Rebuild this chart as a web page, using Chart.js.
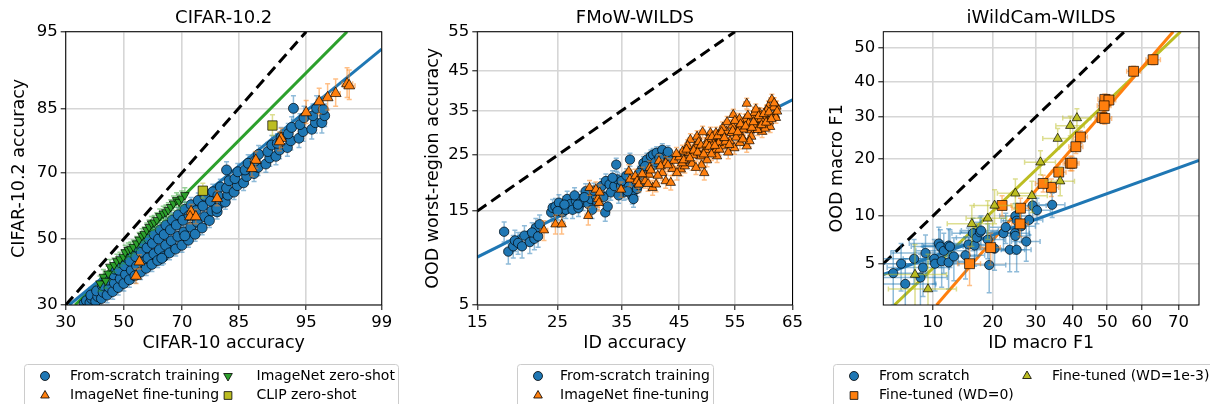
<!DOCTYPE html>
<html>
<head>
<meta charset="utf-8">
<script src="https://cdn.jsdelivr.net/npm/chart.js@4.4.0/dist/chart.umd.min.js"></script>
<style>
body { margin: 0; background: #fff; }
#wrap { position: relative; width: 1210px; height: 404px; overflow: hidden; }
canvas { position: absolute; top: 0; }
</style>
</head>
<body>
<div id="wrap">
<canvas id="cifar" width="403" height="404" style="left:0px"></canvas>
<canvas id="fmow" width="403" height="404" style="left:403px"></canvas>
<canvas id="wild" width="404" height="404" style="left:806px"></canvas>
</div>
<script>
// ---- CIFAR-10.2 (x: CIFAR-10 acc, y: CIFAR-10.2 acc) ----
var cifarXTicks = [30, 50, 70, 85, 95, 99];
var cifarYTicks = [30, 50, 70, 85, 95];
var cifarScratch = [
	[36.0,30.4],[36.8,31.2],[38.0,30.6],[38.6,31.8],[38.3,32.8],[40.0,31.0],[40.7,32.4],[40.3,34.0],[42.0,31.8],[42.6,33.6],
	[42.3,35.6],[44.0,32.8],[44.7,35.0],[44.2,37.2],[46.0,33.8],[46.6,36.3],[46.3,38.8],[46.9,40.5],[48.0,35.0],[48.7,37.6],
	[48.2,40.2],[48.8,42.5],[50.0,36.2],[50.6,38.9],[50.3,41.6],[50.9,44.2],[52.0,37.3],[52.7,40.2],[52.2,43.0],[52.8,45.8],
	[54.0,38.5],[54.6,41.5],[54.3,44.4],[54.9,47.3],[56.0,39.6],[56.7,42.8],[56.2,45.8],[56.8,48.7],[58.0,40.8],[58.6,44.0],
	[58.3,47.2],[58.9,50.0],[60.0,42.0],[60.7,45.3],[60.2,48.6],[60.8,51.4],[62.0,43.2],[62.6,46.6],[62.3,50.0],[62.9,52.9],
	[64.0,44.4],[64.7,48.0],[64.2,51.4],[64.8,54.4],[66.0,45.6],[66.6,49.4],[66.3,52.9],[66.9,56.0],[68.0,46.8],[68.7,50.8],
	[68.2,54.4],[68.8,57.6],[70.0,48.0],[70.6,52.2],[70.3,55.9],[70.9,59.3],[72.0,49.6],[72.7,53.7],[72.2,57.4],[72.8,60.7],
	[74.0,51.5],[74.6,55.3],[74.3,58.9],[74.9,62.0],[76.0,53.5],[76.7,57.0],[76.2,60.3],[76.8,63.3],[78.0,55.8],[78.6,58.8],
	[78.3,61.8],[78.9,64.6],[80.0,58.5],[80.7,61.0],[80.2,63.5],[80.8,66.0],[82.0,61.5],[82.6,63.6],[82.3,65.7],[82.9,67.8],
	[84.0,64.5],[84.7,66.4],[84.2,68.4],[84.8,70.3],[86.0,67.2],[86.6,69.0],[86.3,70.8],[86.9,72.6],[88.0,69.8],[88.7,71.5],
	[88.2,73.2],[88.8,74.9],[90.0,72.4],[90.6,74.0],[90.3,75.6],[90.9,77.2],[91.5,74.4],[92.0,76.0],[91.7,77.6],[92.2,79.0],
	[93.0,76.6],[93.4,78.2],[93.1,79.8],[93.5,81.2],[94.3,78.8],[94.7,80.3],[94.4,81.8],[94.8,83.2],[95.5,80.8],[95.8,82.2],
	[95.6,83.6],[95.9,85.0],[96.3,82.2],[96.5,83.6],[96.4,84.8],[93.7,85.0],[82.3,70.8],[63.4,43.9],[79.9,59.6],[70.9,51.0]
];
var cifarFinetune = [
	[97.8,89.1],[97.9,88.8],[97.2,87.6],[96.7,86.9],[96.1,86.2],[95.0,84.2],[92.2,78.8],[92.0,78.0],[88.3,73.4],[87.6,71.2],
	[80.0,62.6],[72.8,58.6],[72.5,57.0],[74.2,57.0],[55.6,42.8],[54.4,38.4]
];
var cifarZeroShot = [
	[41.5,36.2],[42.7,38.2],[43.5,37.0],[44.4,39.2],[45.0,41.3],[46.5,41.8],[47.5,43.0],[48.6,43.6],[49.8,44.4],[50.5,45.8],
	[51.6,46.5],[52.5,46.8],[53.4,47.5],[54.6,48.6],[55.5,49.8],[56.5,51.0],[57.3,51.6],[58.2,52.8],[59.0,53.8],[59.9,54.9],
	[60.8,55.2],[61.7,56.0],[62.7,57.2],[63.9,58.0],[64.8,58.4],[65.6,59.1],[66.4,60.0],[67.3,61.1],[68.3,62.1],[69.1,61.6],
	[69.9,62.6],[70.9,63.6]
];
var cifarClip = [[76.2,64.9],[91.0,81.6]];
var cifarFitScratch = [[31.1,30],[99,93.4]];
var cifarFitZeroShot = [[33.0,30],[97.8,95]];
var cifarDiag = [[30,30],[95,95]];
var cifarLabels = ['From-scratch training', 'ImageNet fine-tuning', 'ImageNet zero-shot', 'CLIP zero-shot'];

// ---- FMoW-WILDS (x: ID acc, y: OOD worst-region acc) ----
var fmowXTicks = [15, 25, 35, 45, 55, 65];
var fmowYTicks = [5, 15, 25, 35, 45, 55];
var fmowScratch = [
	[18.0,12.1],[18.5,9.7],[19.1,10.3],[19.3,11.0],[19.7,10.7],[20.2,10.3],[20.5,11.6],[21.2,10.8],[21.8,11.2],[22.0,12.6],
	[22.5,13.1],[21.5,12.0],[22.3,11.5],[24.1,14.8],[24.3,15.5],[24.7,15.7],[25.2,16.3],[25.7,14.8],[26.2,15.2],[26.4,16.9],
	[26.9,16.1],[27.2,15.2],[27.7,16.6],[28.1,15.5],[28.5,16.9],[28.8,16.4],[29.2,18.2],[29.6,16.1],[30.0,16.9],[30.2,15.2],
	[30.8,17.4],[31.4,18.0],[31.7,19.1],[32.3,14.8],[32.4,20.0],[32.7,15.7],[33.0,19.4],[33.2,18.0],[33.8,19.1],[34.1,23.1],
	[34.3,20.3],[34.9,19.1],[35.4,18.0],[36.2,19.1],[36.4,24.1],[36.8,17.4],[37.0,16.9],[37.6,18.6],[37.9,20.9],[37.9,19.3],
	[38.4,22.1],[38.7,23.4],[39.3,24.1],[40.0,24.8],[40.4,25.1],[41.0,25.5],[42.0,26.1],[42.6,24.8],[43.2,24.1],[25.0,15.0],
	[26.0,16.0],[27.5,17.5],[28.0,16.0],[29.0,17.2],[30.5,18.3],[31.0,16.5],[32.0,17.2],[33.5,20.6],[34.5,17.5],[35.0,20.0],
	[35.8,21.0],[36.0,18.2],[38.0,21.5],[39.0,22.8],[40.8,23.6],[41.5,24.5],[43.0,25.7]
];
var fmowFinetune = [
	[23.1,12.3],[24.7,13.1],[25.6,13.1],[29.6,14.3],[29.8,18.8],[30.8,18.5],[31.1,16.9],[31.4,18.0],[31.3,16.3],[34.9,18.5],
	[36.2,21.8],[36.4,20.3],[37.3,20.9],[37.6,20.0],[37.9,19.4],[39.0,20.0],[39.7,21.2],[39.8,22.5],[40.3,18.8],[40.9,19.4],
	[41.4,23.8],[42.0,21.5],[42.6,20.0],[43.5,19.7],[44.1,23.9],[42.6,23.4],[41.7,22.8],[45.3,22.2],[46.1,23.9],[47.3,23.3],
	[47.0,28.3],[47.9,26.9],[48.8,24.8],[49.5,21.5],[49.7,26.1],[50.6,29.8],[51.2,27.6],[51.8,24.8],[52.4,28.6],[53.0,26.9],
	[53.5,30.1],[54.1,28.0],[54.7,34.0],[54.9,26.5],[55.6,31.2],[56.2,29.0],[56.8,32.8],[57.1,36.7],[57.1,26.9],[57.7,30.4],
	[58.2,33.6],[58.8,31.6],[59.4,34.4],[59.8,30.1],[60.3,33.2],[60.9,36.0],[61.2,31.2],[61.5,37.7],[62.0,34.0],[62.3,36.0],
	[60.3,30.8],[46.7,25.5],[48.2,29.0],[50.0,24.0],[51.5,26.1],[54.4,29.8],[55.9,27.6],[57.9,29.0],[59.1,32.8],[52.1,27.6],
	[45.6,25.8],[45.0,24.6],[46.5,27.0],[47.5,25.0],[48.5,27.8],[49.0,23.0],[50.2,28.4],[50.8,25.2],[51.6,29.8],[52.2,26.2],
	[52.8,31.0],[53.3,27.9],[53.8,25.6],[54.5,31.5],[55.2,28.8],[55.8,33.0],[56.5,30.6],[57.4,32.0],[57.6,28.0],[58.5,34.5],
	[59.0,30.5],[59.6,33.0],[60.6,35.0],[61.0,32.5],[61.8,35.8],[62.2,33.3],[49.2,30.0],[48.0,22.5],[46.0,22.8],[44.5,25.3],
	[45.5,23.4],[43.8,22.3],
	[45.8,24.0],[46.3,26.2],[46.9,24.4],[47.6,26.0],[48.3,25.6],[48.9,27.1],[49.4,25.2],[49.9,27.3],[50.4,26.8],[50.9,28.9],
	[51.4,27.0],[51.9,29.1],[52.6,30.0],[53.1,28.7],[53.6,32.3],[54.0,27.2],[54.6,30.3],[55.0,32.6],[55.5,30.0],[56.0,31.8],
	[56.4,28.4],[56.9,31.3],[57.3,33.8],[58.0,31.0],[58.3,32.3],[58.7,35.3],[59.2,33.7],[59.7,31.6],[60.1,34.2],[60.5,32.2],
	[61.0,34.6],[61.4,33.0],[61.9,36.8],[62.4,34.8],[44.6,21.5],[43.0,23.0],[41.2,21.0],[40.0,22.0],[38.5,21.3],[39.5,19.5]
];
var fmowFit = [[15,9.1],[65,37.6]];
var fmowDiag = [[15,15],[55,55]];
var fmowLabels = ['From-scratch training', 'ImageNet fine-tuning'];

// ---- iWildCam-WILDS (x: ID macro F1, y: OOD macro F1) ----
var wildXTicks = [10, 20, 30, 40, 50, 60, 70];
var wildYTicks = [5, 10, 20, 30, 40, 50];
var wildScratch = [
	[5.8,4.3],[6.5,5.0],[6.9,3.6],[7.8,5.4],[8.5,4.0],[8.8,4.7],[9.1,5.9],[10.2,5.4],[10.3,5.0],[10.8,6.8],
	[11.0,6.5],[11.2,5.2],[11.5,6.1],[12.2,6.6],[12.4,6.5],[12.2,5.1],[13.0,5.6],[14.9,5.7],[15.4,6.7],[16.2,7.9],
	[16.5,6.6],[16.9,7.4],[17.5,8.0],[17.7,8.2],[19.3,4.9],[19.0,7.2],[20.4,6.3],[22.3,7.9],[22.8,8.6],[23.7,6.2],
	[24.9,7.9],[25.0,7.6],[25.3,6.2],[26.4,8.7],[28.3,9.5],[27.6,7.0],[29.2,11.5],[30.3,10.8],[34.3,11.6],[25.0,10.0],
	[25.3,9.4]
];
var wildWd0 = [
	[63.2,46.5],[57.7,43.0],[49.3,34.8],[50.5,34.6],[49.1,33.0],[48.5,29.8],[49.3,29.6],[42.2,24.9],[40.9,22.6],[39.3,19.0],
	[39.8,19.0],[36.1,17.2],[34.1,14.4],[31.9,15.1],[26.2,11.1],[22.0,11.5],[26.1,9.0],[19.6,6.4],[15.6,5.0]
];
var wildWd1e3 = [
	[41.2,29.7],[39.3,27.7],[35.8,24.5],[31.2,19.2],[36.5,15.5],[29.0,13.0],[25.0,13.4],[20.4,11.5],[19.0,9.7],[16.0,9.0],
	[7.9,4.2],[9.4,3.3]
];
var wildFitScratch = [[5,4.2],[75,19.6]];
var wildFitWd0 = [[10.5,2.5],[68.6,55]];
var wildFitWd1e3 = [[5.9,2.5],[70.5,55]];
var wildDiag = [[5,5],[55,55]];
var wildLabels = ['From scratch', 'Fine-tuned (WD=0)', 'Fine-tuned (WD=1e-3)'];

var BLUE = '#1f77b4', ORANGE = '#ff7f0e', GREEN = '#2ca02c', OLIVE = '#bcbd22';

// inverse normal CDF (Acklam)
function probit(p) {
	p = Math.min(Math.max(p, 1e-6), 1 - 1e-6);
	var a = [-39.69683028665376, 220.9460984245205, -275.9285104469687, 138.3577518672690, -30.66479806614716, 2.506628277459239];
	var b = [-54.47609879822406, 161.5858368580409, -155.6989798598866, 66.80131188771972, -13.28068155288572];
	var c = [-0.007784894002430293, -0.3223964580411365, -2.400758277161838, -2.549732539343734, 4.374664141464968, 2.938163982698783];
	var d = [0.007784695709041462, 0.3224671290700398, 2.445134137142996, 3.754408661907416];
	var q, r;
	if (p < 0.02425) {
		q = Math.sqrt(-2 * Math.log(p));
		return (((((c[0]*q+c[1])*q+c[2])*q+c[3])*q+c[4])*q+c[5]) / ((((d[0]*q+d[1])*q+d[2])*q+d[3])*q+1);
	}
	if (p > 1 - 0.02425) {
		q = Math.sqrt(-2 * Math.log(1 - p));
		return -(((((c[0]*q+c[1])*q+c[2])*q+c[3])*q+c[4])*q+c[5]) / ((((d[0]*q+d[1])*q+d[2])*q+d[3])*q+1);
	}
	q = p - 0.5; r = q * q;
	return (((((a[0]*r+a[1])*r+a[2])*r+a[3])*r+a[4])*r+a[5])*q / (((((b[0]*r+b[1])*r+b[2])*r+b[3])*r+b[4])*r+1);
}

function normCdf(z) {
	var t = 1 / (1 + 0.2316419 * Math.abs(z));
	var y = 0.3989423 * Math.exp(-z * z / 2) * t * (0.3193815 + t * (-0.3565638 + t * (1.781478 + t * (-1.821256 + t * 1.330274))));
	return z > 0 ? 1 - y : y;
}

// percentages on a probit axis
class ProbitScale extends Chart.Scale {
	determineDataLimits() {
		this.min = this.options.min;
		this.max = this.options.max;
	}
	buildTicks() {
		return [];
	}
	configure() {
		super.configure();
		this._pStart = probit(this.min / 100);
		this._pRange = probit(this.max / 100) - this._pStart;
	}
	getPixelForValue(value) {
		return this.getPixelForDecimal((probit(value / 100) - this._pStart) / this._pRange);
	}
	getValueForPixel(pixel) {
		return 100 * normCdf(this._pStart + this.getDecimalForPixel(pixel) * this._pRange);
	}
	getLabelForValue(value) {
		return value.toFixed(1);
	}
}
ProbitScale.id = 'probit';
ProbitScale.defaults = {};
Chart.register(ProbitScale);

Chart.defaults.font.family = '"DejaVu Sans", sans-serif';
Chart.defaults.color = '#000';

function fade(hex, a) {
	var n = parseInt(hex.slice(1), 16);
	return 'rgba(' + (n >> 16) + ',' + ((n >> 8) & 255) + ',' + (n & 255) + ',' + a + ')';
}

function points(data, color, style, radius, err, order, rotation) {
	return {
		data: data,
		backgroundColor: color,
		borderColor: 'rgba(0,0,0,0.85)',
		borderWidth: 0.8,
		pointStyle: style,
		pointRadius: radius,
		pointRotation: rotation || 0,
		err: err,
		errColor: fade(color, 0.5),
		clip: 0,
		order: order
	};
}

function fitLine(data, color, dash) {
	return {
		data: data,
		showLine: true,
		borderColor: color,
		borderWidth: 3,
		borderDash: dash || [],
		pointRadius: 0,
		clip: 0,
		order: 10
	};
}

// vertical (and horizontal) error bars with caps, under each point set
var errorBars = {
	id: 'errorBars',
	beforeDatasetDraw: function (chart, args) {
		var ds = chart.data.datasets[args.index];
		if (!ds.err) return;
		var xs = chart.scales.x, ys = chart.scales.y, ctx = chart.ctx, a = chart.chartArea;
		var cap = 2.5;
		ctx.save();
		ctx.beginPath();
		ctx.rect(a.left, a.top, a.right - a.left, a.bottom - a.top);
		ctx.clip();
		ctx.strokeStyle = ds.errColor;
		ctx.lineWidth = 1.5;
		ds.data.forEach(function (p) {
			var x = xs.getPixelForValue(p[0]), y = ys.getPixelForValue(p[1]);
			var y0 = ys.getPixelForValue(p[1] - ds.err[1]), y1 = ys.getPixelForValue(p[1] + ds.err[1]);
			ctx.beginPath();
			ctx.moveTo(x, y0); ctx.lineTo(x, y1);
			ctx.moveTo(x - cap, y0); ctx.lineTo(x + cap, y0);
			ctx.moveTo(x - cap, y1); ctx.lineTo(x + cap, y1);
			if (ds.err[0]) {
				var x0 = xs.getPixelForValue(p[0] - ds.err[0]), x1 = xs.getPixelForValue(p[0] + ds.err[0]);
				ctx.moveTo(x0, y); ctx.lineTo(x1, y);
				ctx.moveTo(x0, y - cap); ctx.lineTo(x0, y + cap);
				ctx.moveTo(x1, y - cap); ctx.lineTo(x1, y + cap);
			}
			ctx.stroke();
		});
		ctx.restore();
	}
};

var frame = {
	id: 'frame',
	afterDatasetsDraw: function (chart) {
		var a = chart.chartArea, ctx = chart.ctx;
		ctx.save();
		ctx.strokeStyle = '#000';
		ctx.lineWidth = 1;
		ctx.strokeRect(a.left, a.top, a.right - a.left, a.bottom - a.top);
		ctx.restore();
	}
};

// boxed two-column legend under the axes
function boxLegend(box, items) {
	return {
		id: 'boxLegend',
		afterDraw: function (chart) {
			var ctx = chart.ctx;
			ctx.save();
			ctx.beginPath();
			ctx.roundRect(box.x, box.y, box.w, box.h, 3);
			ctx.fillStyle = 'rgba(255,255,255,0.8)';
			ctx.fill();
			ctx.strokeStyle = '#cccccc';
			ctx.lineWidth = 1;
			ctx.stroke();
			items.forEach(function (it) {
				ctx.fillStyle = it.color;
				ctx.strokeStyle = '#000';
				ctx.lineWidth = 0.8;
				Chart.helpers.drawPoint(ctx, { pointStyle: it.style, radius: it.r, rotation: it.rot || 0, borderWidth: 0.8 }, it.mx, it.y);
				ctx.fillStyle = '#000';
				ctx.font = '14px "DejaVu Sans"';
				ctx.textBaseline = 'middle';
				ctx.textAlign = 'left';
				ctx.fillText(it.label, it.tx, it.y);
			});
			ctx.restore();
		}
	};
}

function useTicks(values) {
	return function (scale) {
		scale.ticks = values.map(function (v) { return { value: v }; });
	};
}

function axis(range, ticks, title, titlePad, fit) {
	return {
		type: 'probit',
		min: range[0],
		max: range[1],
		afterBuildTicks: useTicks(ticks),
		afterFit: fit,
		border: { display: false },
		grid: { color: '#d6d6d6', lineWidth: 1.6, drawTicks: true, tickColor: '#000', tickLength: 5, tickWidth: 1 },
		ticks: { autoSkip: false, maxRotation: 0, padding: 3, font: { size: 16.5 } },
		title: { display: true, text: title, font: { size: 17.5 }, padding: titlePad }
	};
}

function panel(id, p) {
	return new Chart(document.getElementById(id), {
		type: 'scatter',
		data: { datasets: p.datasets },
		options: {
			responsive: false,
			animation: false,
			events: [],
			layout: { padding: { left: 0, top: 0, right: p.padRight, bottom: 49 } },
			plugins: {
				legend: { display: false },
				tooltip: { enabled: false },
				title: {
					display: true,
					fullSize: false,
					text: p.title,
					font: { size: 18, weight: 'normal' },
					padding: { top: 7.2, bottom: 2.9 }
				}
			},
			scales: {
				x: axis(p.x, p.xTicks, p.xTitle, { top: 0, bottom: 1.3 }, function (s) { s.height = 50; }),
				y: axis(p.y, p.yTicks, p.yTitle, { top: p.yTitlePad, bottom: 0 }, function (s) { s.width = p.yWidth; })
			}
		},
		plugins: [errorBars, frame, boxLegend(p.legendBox, p.legend)]
	});
}

panel('cifar', {
	title: 'CIFAR-10.2',
	xTitle: 'CIFAR-10 accuracy',
	yTitle: 'CIFAR-10.2 accuracy',
	x: [30, 99], y: [30, 95],
	xTicks: cifarXTicks, yTicks: cifarYTicks,
	yWidth: 65.7, yTitlePad: 8.7, padRight: 21.3,
	datasets: [
		fitLine(cifarDiag, '#000', [11, 6]),
		fitLine(cifarFitScratch, BLUE),
		fitLine(cifarFitZeroShot, GREEN),
		points(cifarScratch, BLUE, 'circle', 5, [0.25, 2.2], 5),
		points(cifarFinetune, ORANGE, 'triangle', 6.3, [0.25, 2.2], 4),
		points(cifarZeroShot, GREEN, 'triangle', 5, [0.25, 2.2], 3, 180),
		points(cifarClip, OLIVE, 'rect', 6.6, [0.25, 2.2], 2)
	],
	legendBox: { x: 24.5, y: 364.5, w: 374, h: 60 },
	legend: [
		{ label: cifarLabels[0], color: BLUE, style: 'circle', r: 4.5, mx: 45, tx: 70, y: 376 },
		{ label: cifarLabels[1], color: ORANGE, style: 'triangle', r: 5, mx: 45, tx: 70, y: 395.5 },
		{ label: cifarLabels[2], color: GREEN, style: 'triangle', r: 5, rot: 180, mx: 228, tx: 256.5, y: 376 },
		{ label: cifarLabels[3], color: OLIVE, style: 'rect', r: 5.5, mx: 228, tx: 256.5, y: 395.5 }
	]
});

panel('fmow', {
	title: 'FMoW-WILDS',
	xTitle: 'ID accuracy',
	yTitle: 'OOD worst-region accuracy',
	x: [15, 65], y: [5, 55],
	xTicks: fmowXTicks, yTicks: fmowYTicks,
	yWidth: 74.3, yTitlePad: 19.5, padRight: 12,
	datasets: [
		fitLine(fmowDiag, '#000', [11, 6]),
		fitLine(fmowFit, BLUE),
		points(fmowScratch, BLUE, 'circle', 4.7, [0.5, 1.3], 5),
		points(fmowFinetune, ORANGE, 'triangle', 5.4, [0.5, 1.3], 4)
	],
	legendBox: { x: 114.5, y: 364.5, w: 196, h: 60 },
	legend: [
		{ label: fmowLabels[0], color: BLUE, style: 'circle', r: 4.5, mx: 135, tx: 157, y: 376 },
		{ label: fmowLabels[1], color: ORANGE, style: 'triangle', r: 5, mx: 135, tx: 157, y: 395.5 }
	]
});

panel('wild', {
	title: 'iWildCam-WILDS',
	xTitle: 'ID macro F1',
	yTitle: 'OOD macro F1',
	x: [5, 75], y: [2.5, 55],
	xTicks: wildXTicks, yTicks: wildYTicks,
	yWidth: 77.3, yTitlePad: 20.5, padRight: 11,
	datasets: [
		fitLine(wildDiag, '#000', [11, 6]),
		fitLine(wildFitScratch, BLUE),
		fitLine(wildFitWd0, ORANGE),
		fitLine(wildFitWd1e3, OLIVE),
		points(wildScratch, BLUE, 'circle', 4.6, [3.5, 1.8], 5),
		points(wildWd0, ORANGE, 'rect', 7, [2, 1.5], 4),
		points(wildWd1e3, OLIVE, 'triangle', 5.4, [4, 2.5], 3)
	],
	legendBox: { x: 27.5, y: 364.5, w: 400, h: 60 },
	legend: [
		{ label: wildLabels[0], color: BLUE, style: 'circle', r: 4.5, mx: 48, tx: 73, y: 376 },
		{ label: wildLabels[1], color: ORANGE, style: 'rect', r: 5.5, mx: 48, tx: 73, y: 395.5 },
		{ label: wildLabels[2], color: OLIVE, style: 'triangle', r: 5, mx: 221, tx: 246, y: 376 }
	]
});
</script>
</body>
</html>
